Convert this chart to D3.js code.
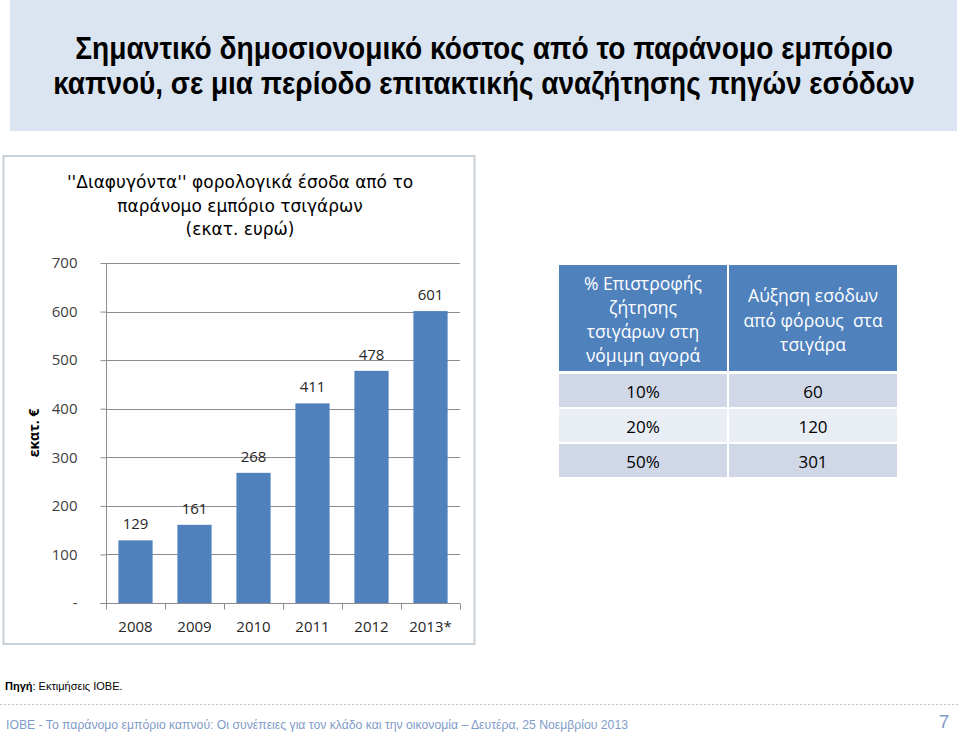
<!DOCTYPE html>
<html><head><meta charset="utf-8">
<script src="https://cdn.jsdelivr.net/npm/d3@7"></script>
<style>body{margin:0;background:#fff}svg{display:block}</style>
</head><body>
<script>
const years = ["2008","2009","2010","2011","2012","2013*"];
const values = [129,161,268,411,478,601];
const yTicks = [0,100,200,300,400,500,600,700];
const tableHeader1 = ["% Επιστροφής","ζήτησης","τσιγάρων στη","νόμιμη αγορά"];
const tableHeader2 = ["Αύξηση εσόδων","από φόρους  στα","τσιγάρα"];
const tablePct = ["10%","20%","50%"];
const tableRevenue = [60,120,301];
const titleLines = ["Σημαντικό δημοσιονομικό κόστος από το παράνομο εμπόριο","καπνού, σε μια περίοδο επιτακτικής αναζήτησης πηγών εσόδων"];
const chartTitleLines = ["''Διαφυγόντα'' φορολογικά έσοδα από το","παράνομο εμπόριο τσιγάρων","(εκατ. ευρώ)"];

const W=960,H=736;
const svg=d3.select("body").append("svg").attr("width",W).attr("height",H);
const blue="#4f81bd";

// title banner
svg.append("rect").attr("x",10).attr("y",0).attr("width",947).attr("height",131).attr("fill","#dbe5f1");
const tl=[{y:48,len:818},{y:83,len:862}];
titleLines.forEach((t,i)=>{
  const el=svg.append("text").attr("x",484).attr("y",tl[i].y).attr("text-anchor","middle").attr("dominant-baseline","central")
   .attr("font-family","'Liberation Sans Narrow','Liberation Sans',sans-serif").attr("font-weight","bold")
   .attr("font-size",32).attr("fill","#000").text(t);
  const w=el.node().getComputedTextLength();
  const s=tl[i].len/w;
  el.attr("x",0).attr("y",0).attr("transform",`translate(484,${tl[i].y}) scale(${s},1)`);
});

// chart frame
svg.append("rect").attr("x",3.5).attr("y",156).attr("width",471).attr("height",488).attr("fill","#fff").attr("stroke","#c9d0d6").attr("stroke-width",2);
chartTitleLines.forEach((t,i)=>{
  svg.append("text").attr("x",240).attr("y",[182,206,229][i]).attr("text-anchor","middle").attr("dominant-baseline","central")
   .attr("font-family","'DejaVu Sans',sans-serif").attr("font-size",17).attr("fill","#000").text(t);
});

const y=d3.scaleLinear().domain([0,700]).range([603,263]);
const x=d3.scaleBand().domain(years).range([106,460]).paddingInner(0.42).paddingOuter(0.21);
const step=x.step();
const font="'Open Sans','Noto Sans',sans-serif";

// gridlines
const gy=svg.append("g");
gy.selectAll("line").data(yTicks.filter(d=>d>0)).join("line")
 .attr("x1",106).attr("x2",460).attr("y1",d=>Math.round(y(d))+0.5).attr("y2",d=>Math.round(y(d))+0.5)
 .attr("stroke","#8c8c8c").attr("stroke-width",1);

// y axis
const yAxis=d3.axisLeft(y).tickValues(yTicks).tickSize(6).tickPadding(23).tickFormat(d=>d===0?"-":d);
const ya=svg.append("g").attr("transform","translate(106.5,0)").call(yAxis);
ya.select(".domain").attr("stroke","#8c8c8c").attr("d","M0,263V609");
ya.selectAll(".tick line").attr("stroke","#8c8c8c");
ya.selectAll(".tick text").attr("font-family",font).attr("font-size",15).attr("fill","#404040");

// bars
svg.append("g").selectAll("rect").data(values).join("rect")
 .attr("x",(d,i)=>x(years[i])).attr("width",x.bandwidth())
 .attr("y",d=>y(d)).attr("height",d=>y(0)-y(d)).attr("fill",blue);

// x axis
const xa=svg.append("g").attr("transform","translate(0,603.5)");
xa.append("line").attr("x1",100).attr("x2",460).attr("stroke","#8c8c8c");
const bounds=years.map(c=>x(c)-x.paddingInner()*step/2).concat([x(years[5])+x.bandwidth()+x.paddingInner()*step/2]);
xa.selectAll("line.t").data(bounds).join("line").attr("class","t")
 .attr("x1",d=>Math.round(d)+0.5).attr("x2",d=>Math.round(d)+0.5).attr("y1",0).attr("y2",6).attr("stroke","#8c8c8c");
xa.selectAll("text").data(years).join("text").attr("x",d=>x(d)+x.bandwidth()/2).attr("y",22)
 .attr("text-anchor","middle").attr("dominant-baseline","central").attr("font-family",font).attr("font-size",15).attr("fill","#262626").text(d=>d);

// value labels
svg.append("g").selectAll("text").data(values).join("text")
 .attr("x",(d,i)=>x(years[i])+x.bandwidth()/2).attr("y",d=>y(d)-17)
 .attr("text-anchor","middle").attr("dominant-baseline","central").attr("font-family",font).attr("font-size",15).attr("fill","#262626").text(d=>d);

// y title
svg.append("text").attr("transform","translate(33,433) rotate(-90)").attr("text-anchor","middle").attr("dominant-baseline","central")
 .attr("font-family",font).attr("font-weight","bold").attr("font-size",14).attr("fill","#000").text("εκατ. €");

// table
const tx=[559,729], tw=[168,168];
const tfont="'Open Sans','Noto Sans',sans-serif";
tx.forEach((xx,i)=>svg.append("rect").attr("x",xx).attr("y",265).attr("width",tw[i]).attr("height",106).attr("fill",blue));
tableHeader1.forEach((t,i)=>svg.append("text").attr("x",643).attr("y",283+i*24).attr("text-anchor","middle").attr("dominant-baseline","central")
 .attr("font-family",tfont).attr("font-size",17.5).attr("fill","#fff").text(t));
tableHeader2.forEach((t,i)=>svg.append("text").attr("x",813).attr("y",295+i*24.5).attr("text-anchor","middle").attr("dominant-baseline","central")
 .attr("font-family",tfont).attr("font-size",17.5).attr("fill","#fff").style("white-space","pre").text(t));
const rowY=[374,409,444], rowFill=["#d0d8e8","#e9edf4","#d0d8e8"];
tablePct.forEach((p,i)=>{
  tx.forEach((xx,j)=>svg.append("rect").attr("x",xx).attr("y",rowY[i]).attr("width",tw[j]).attr("height",33).attr("fill",rowFill[i]));
  svg.append("text").attr("x",643).attr("y",rowY[i]+17).attr("text-anchor","middle").attr("dominant-baseline","central")
   .attr("font-family",tfont).attr("font-size",17).attr("fill","#000").text(p);
  svg.append("text").attr("x",813).attr("y",rowY[i]+17).attr("text-anchor","middle").attr("dominant-baseline","central")
   .attr("font-family",tfont).attr("font-size",17).attr("fill","#000").text(tableRevenue[i]);
});

// source
const src=svg.append("text").attr("x",5).attr("y",686).attr("dominant-baseline","central")
 .attr("font-family","'Liberation Sans Narrow','Liberation Sans',sans-serif").attr("font-size",11).attr("fill","#000");
src.append("tspan").attr("font-weight","bold").text("Πηγή");
src.append("tspan").text(": Εκτιμήσεις ΙΟΒΕ.");

// footer
svg.append("line").attr("x1",0).attr("x2",960).attr("y1",704.5).attr("y2",704.5).attr("stroke","#b8c4d6").attr("stroke-dasharray","2,2");
svg.append("text").attr("x",6).attr("y",724).attr("dominant-baseline","central")
 .attr("font-family","'Liberation Sans Narrow','Liberation Sans',sans-serif").attr("font-size",13.5).attr("fill","#7f9bc8")
 .attr("textLength",622).attr("lengthAdjust","spacingAndGlyphs")
 .text("ΙΟΒΕ - Το παράνομο εμπόριο καπνού: Οι συνέπειες για τον κλάδο και την οικονομία – Δευτέρα, 25 Νοεμβρίου 2013");
svg.append("text").attr("x",944).attr("y",721).attr("text-anchor","middle").attr("dominant-baseline","central")
 .attr("font-family","'Liberation Sans Narrow','Liberation Sans',sans-serif").attr("font-size",19).attr("fill","#7f9bc8").text("7");
</script>
</body></html>
